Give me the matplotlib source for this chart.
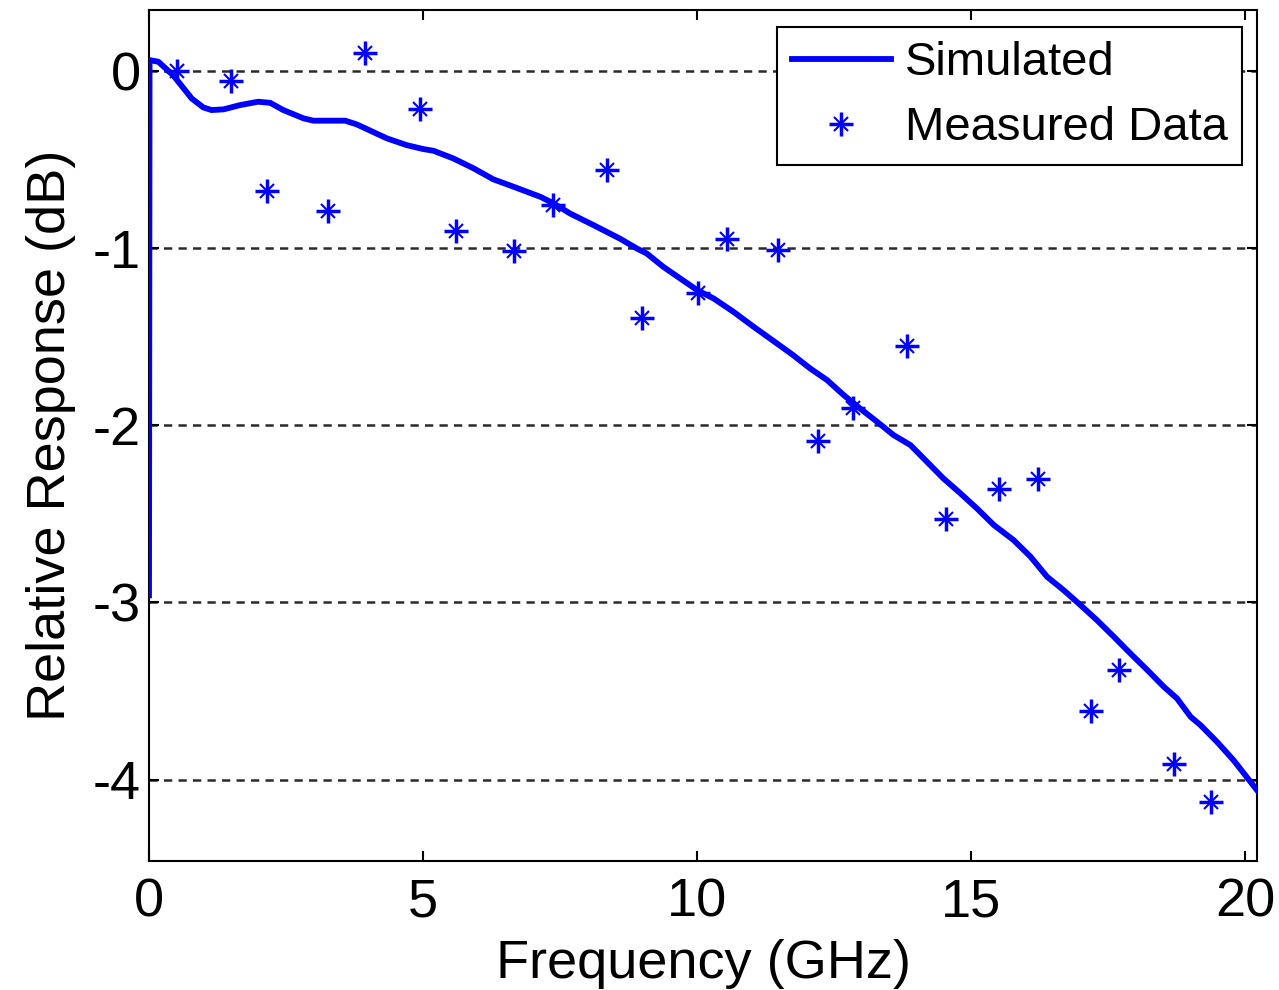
import matplotlib
matplotlib.use("Agg")
import matplotlib.pyplot as plt
from matplotlib.legend_handler import HandlerTuple

plt.rcParams['font.family'] = ['Liberation Sans', 'DejaVu Sans']

# Simulated response (frequency GHz, relative response dB)
sim_freq = [0, 0.01, 0.17, 0.44, 0.78, 0.99, 1.14, 1.36, 1.66, 1.99, 2.21, 2.45, 2.82,
            3.0, 3.58, 3.79, 4.34, 4.70, 5.0, 5.19, 5.55, 5.92, 6.28, 6.65, 7.14, 7.38,
            7.68, 8.11, 8.59, 8.90, 9.08, 9.38, 9.69, 10.0, 10.30, 10.66, 11.03, 11.45,
            11.75, 12.06, 12.37, 12.67, 12.97, 13.28, 13.58, 13.89, 14.19, 14.49, 14.80,
            15.10, 15.41, 15.77, 16.08, 16.38, 16.68, 16.99, 17.29, 17.60, 17.90, 18.21,
            18.51, 18.75, 19.0, 19.18, 19.48, 19.78, 20.21]
sim_db = [-2.96, 0.062, 0.053, -0.023, -0.155, -0.205, -0.220, -0.216, -0.192, -0.173,
          -0.179, -0.220, -0.267, -0.280, -0.280, -0.301, -0.380, -0.418, -0.440, -0.450,
          -0.493, -0.549, -0.611, -0.653, -0.710, -0.747, -0.804, -0.870, -0.946, -1.002,
          -1.03, -1.105, -1.171, -1.237, -1.284, -1.359, -1.444, -1.537, -1.604, -1.679,
          -1.745, -1.829, -1.905, -1.980, -2.055, -2.112, -2.206, -2.30, -2.384, -2.469,
          -2.563, -2.648, -2.742, -2.855, -2.930, -3.015, -3.10, -3.194, -3.288, -3.382,
          -3.476, -3.542, -3.646, -3.693, -3.787, -3.890, -4.06]

# Measured data
meas_freq = [0.51, 1.50, 2.15, 3.27, 3.94, 4.95, 5.60, 6.66, 7.36, 8.35, 8.99, 10.02,
             10.54, 11.48, 12.21, 12.85, 13.83, 14.54, 15.51, 16.21, 17.19, 17.70, 18.69, 19.38]
meas_db = [0.0, -0.056, -0.676, -0.789, 0.103, -0.215, -0.903, -1.016, -0.757, -0.559,
           -1.396, -1.255, -0.950, -1.011, -2.087, -1.905, -1.553, -2.531, -2.36, -2.304,
           -3.614, -3.382, -3.915, -4.129]

x_ticks = [0, 5, 10, 15, 20]
y_ticks = [-4, -3, -2, -1, 0]

fig = plt.figure(figsize=(12.79, 9.9), dpi=100)
ax = fig.add_axes([0.1165, 0.1303, 0.9828 - 0.1165, 0.9899 - 0.1303])

for yv in y_ticks:
    ax.axhline(yv, color='#2a2a2a', lw=1.8, linestyle=(0, (3.3, 2.5)), zorder=1)

line, = ax.plot(sim_freq, sim_db, color='#0000ff', lw=4.2, zorder=3, label='Simulated')
p1, = ax.plot(meas_freq, meas_db, linestyle='none', marker='+', markersize=17,
              markeredgewidth=2.5, color='#0000ff', zorder=4)
p2, = ax.plot(meas_freq, meas_db, linestyle='none', marker='x', markersize=10,
              markeredgewidth=1.5, color='#0000ff', zorder=4)

ax.set_xlim(0, 20.21)
ax.set_ylim(-4.46, 0.345)
ax.set_xticks(x_ticks)
ax.set_yticks(y_ticks)
ax.set_xticklabels([str(v) for v in x_ticks])
ax.set_yticklabels([str(v) for v in y_ticks])

ax.tick_params(direction='in', length=7, width=1.5, top=True, right=True,
               labelsize=39, colors='black')
ax.tick_params(axis='x', pad=12)
ax.tick_params(axis='y', pad=6)
for s in ax.spines.values():
    s.set_linewidth(1.5)
    s.set_color('black')

ax.set_xlabel('Frequency (GHz)', fontsize=39, labelpad=8)
ax.set_ylabel('Relative Response (dB)', fontsize=39, labelpad=12)

leg = ax.legend([line, (p1, p2)], ['Simulated', 'Measured Data'],
                handler_map={tuple: HandlerTuple(ndivide=1, pad=0)},
                loc='upper right', fontsize=34, frameon=True, fancybox=False,
                edgecolor='black', framealpha=1, handlelength=2.1,
                bbox_to_anchor=(1 - 15 / 1108, 1 - 17 / 851),
                borderaxespad=0.0, borderpad=0.3, labelspacing=0.45, handletextpad=0.3)
leg.get_frame().set_linewidth(1.5)

fig.savefig('out.png', dpi=100)
